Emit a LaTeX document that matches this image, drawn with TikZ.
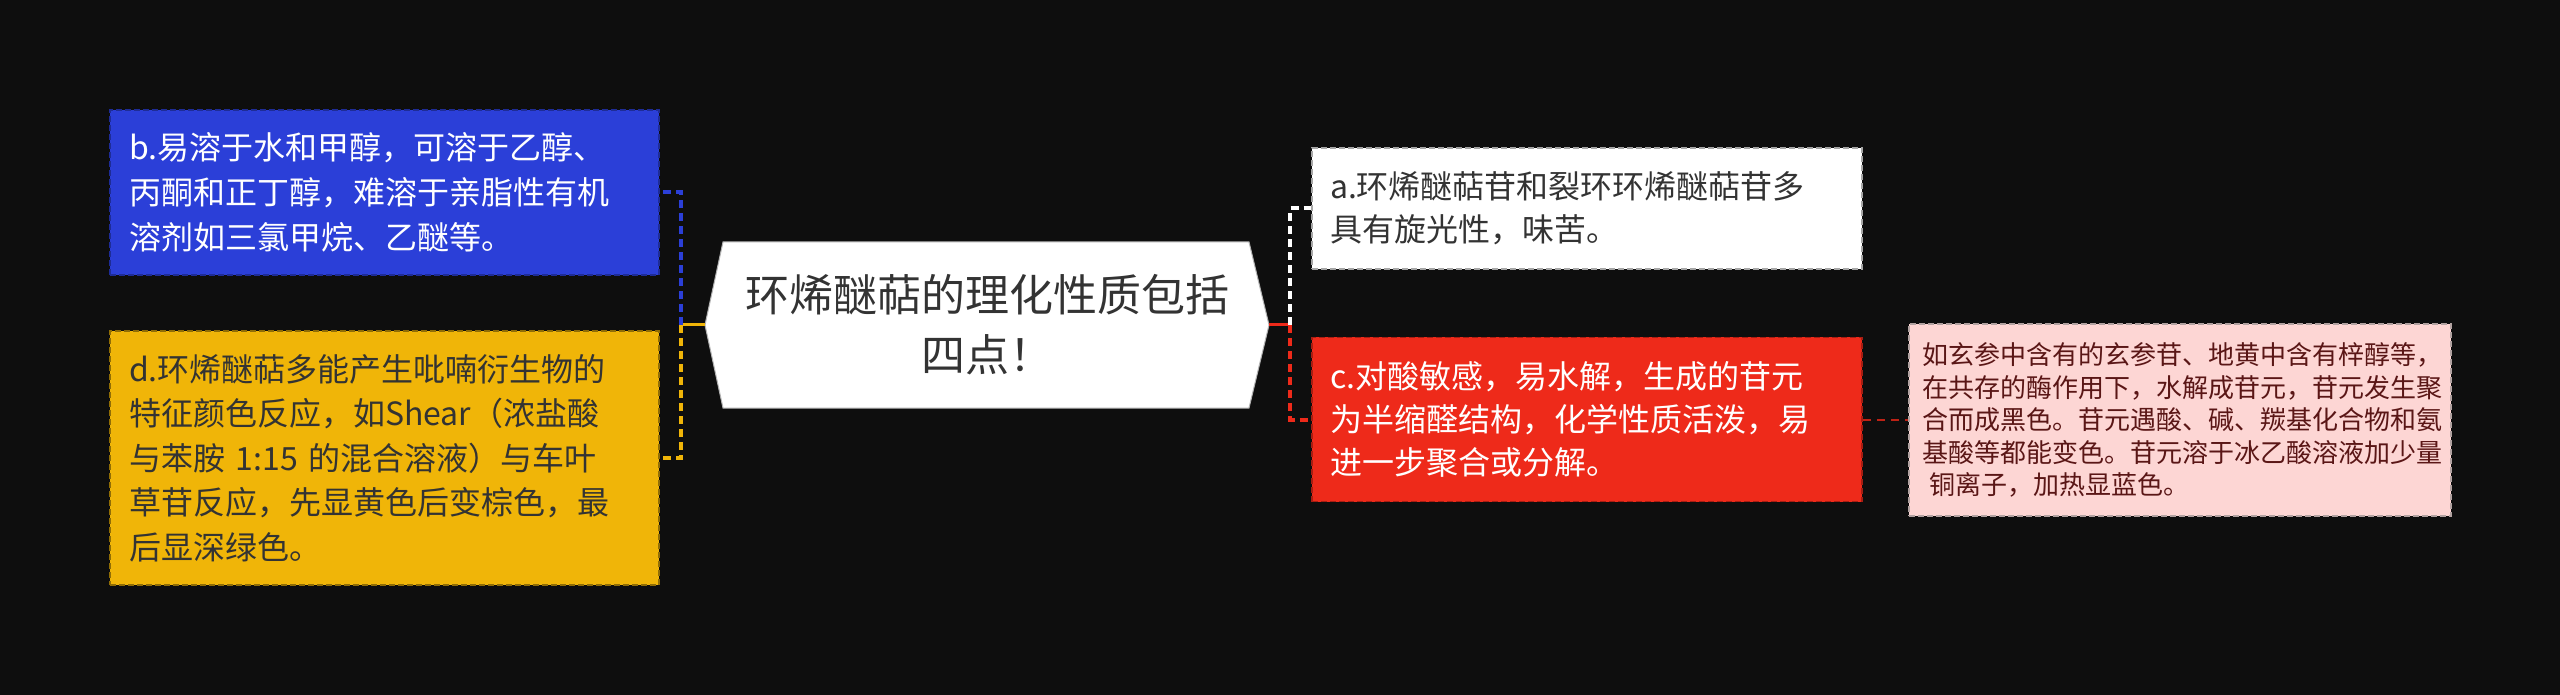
\documentclass[tikz,border=0pt]{standalone}
\usepackage{fontspec}
\setmainfont{Noto Sans CJK SC}
\definecolor{bg}{HTML}{0E0E0E}
\definecolor{cblue}{HTML}{2B3FD8}
\definecolor{cyel}{HTML}{F0B508}
\definecolor{cred}{HTML}{EE2A1A}
\definecolor{cpink}{HTML}{FDD6D4}
\definecolor{txt}{HTML}{333333}
\definecolor{ptxt}{HTML}{5A1616}
\begin{document}
\begin{tikzpicture}[x=0.5pt,y=-0.5pt,
  box/.style={rectangle, inner xsep=9.5pt, inner ysep=0pt, align=left,
    line width=0.8pt, dash pattern=on 3pt off 1.5pt},
  bigfont/.style={font=\fontsize{16pt}{22.5pt}\selectfont},
  rfont/.style={font=\fontsize{16pt}{21.5pt}\selectfont},
  link/.style={line width=1.5pt},
  dlink/.style={line width=2pt, dash pattern=on 4pt off 2.5pt}]
\fill[bg] (0,0) rectangle (2560,695);
\useasboundingbox (0,0) rectangle (2560,695);

% central hexagon
\coordinate (hexL) at (705,325);
\coordinate (hexR) at (1269,325);
\fill[white, draw=gray!60, line width=0.5pt] (hexL) -- (723,242) -- (1249,242) -- (hexR) -- (1249,408) -- (723,408) -- cycle;
\node[align=center, text=txt, font=\fontsize{22pt}{30pt}\selectfont] (hex) at (987,325)
  {环烯醚萜的理化性质包括\\四点！};

% left boxes
\node[box, bigfont, fill=cblue, draw=cblue!70!black, text=white,
  text width=255.5pt, minimum height=82.5pt] (b) at (384.5,192.5)
  {b.易溶于水和甲醇，可溶于乙醇、\\丙酮和正丁醇，难溶于亲脂性有机\\溶剂如三氯甲烷、乙醚等。};
\node[box, font=\fontsize{16pt}{22.25pt}\selectfont, fill=cyel, draw=cyel!60!black, text=txt,
  text width=255.5pt, minimum height=127pt] (d) at (384.5,458)
  {d.环烯醚萜多能产生吡喃衍生物的\\特征颜色反应，如Shear（浓盐酸\\与苯胺 1:15 的混合溶液）与车叶\\草苷反应，先显黄色后变棕色，最\\后显深绿色。};

% right boxes
\node[box, rfont, inner xsep=9pt, fill=white, draw=gray!70, text=txt,
  text width=257pt, minimum height=60.5pt] (a) at (1587,208.5)
  {a.环烯醚萜苷和裂环环烯醚萜苷多\\具有旋光性，味苦。};
\node[box, rfont, inner xsep=9pt, fill=cred, draw=cred!70!black, text=white,
  text width=257pt, minimum height=82pt] (c) at (1587,419.5)
  {c.对酸敏感，易水解，生成的苷元\\为半缩醛结构，化学性质活泼，易\\进一步聚合或分解。};
\node[box, font=\fontsize{13pt}{16.25pt}\selectfont, inner xsep=6.5pt, fill=cpink, draw=gray!60!cpink, text=ptxt,
  text width=258pt, minimum height=96pt] (p) at (2180,420)
  {如玄参中含有的玄参苷、地黄中含有梓醇等，\\在共存的酶作用下，水解成苷元，苷元发生聚\\合而成黑色。苷元遇酸、碱、羰基化合物和氨\\基酸等都能变色。苷元溶于冰乙酸溶液加少量\\\hspace*{3.5pt}铜离子，加热显蓝色。};

% connectors
\coordinate (jl) at (681,325);
\coordinate (jr) at (1290,325);
\draw[link, cyel] (hexL) -- (jl);
\draw[dlink, cblue] (jl) |- (b.east);
\draw[dlink, cyel] (jl) |- (d.east);
\draw[link, cred] (hexR) -- (jr);
\draw[dlink, white] (jr) |- (a.west);
\draw[dlink, cred] (jr) |- (c.west);
\draw[line width=1pt, dash pattern=on 4pt off 3pt, cred!80!black] (c.east) -- (c.east -| p.west);
\end{tikzpicture}
\end{document}
